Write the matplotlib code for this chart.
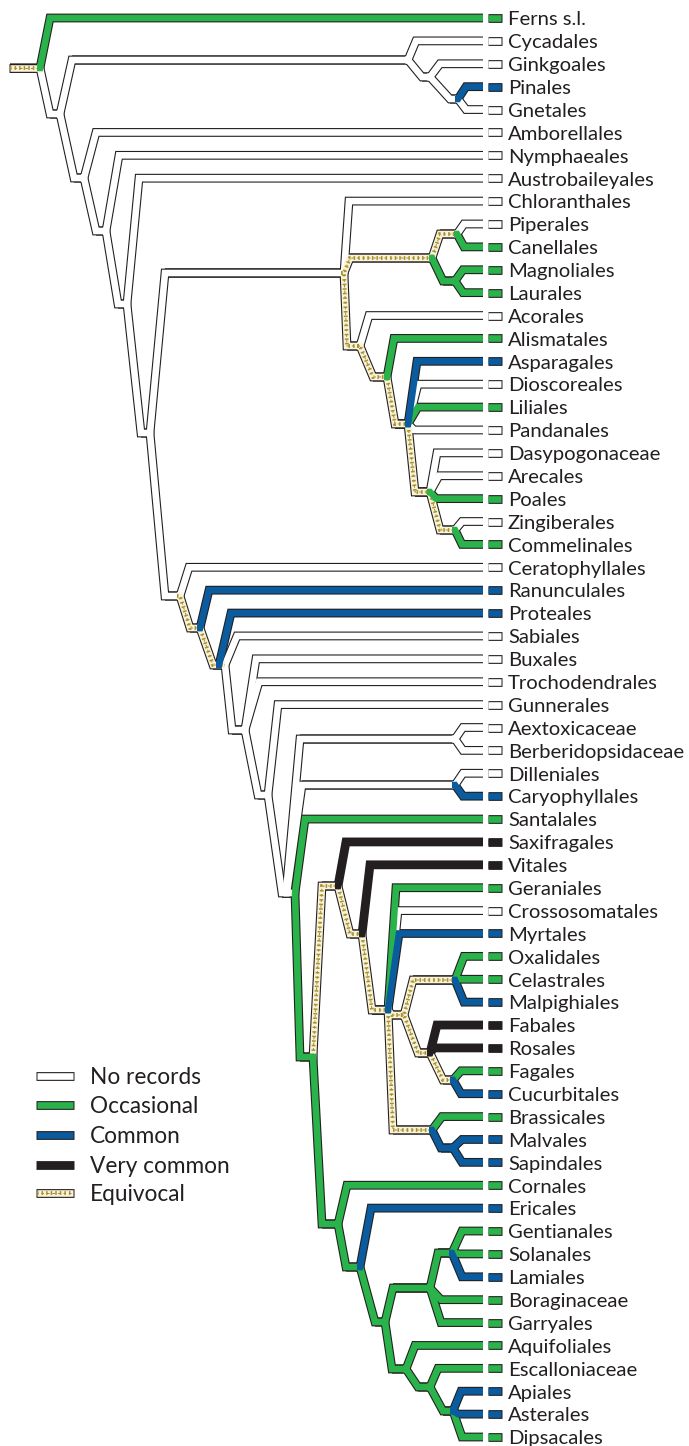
import matplotlib
matplotlib.use('Agg')
import matplotlib.pyplot as plt

# Tip taxa, top to bottom
taxa = ['Ferns s.l.', 'Cycadales', 'Ginkgoales', 'Pinales', 'Gnetales', 'Amborellales',
        'Nymphaeales', 'Austrobaileyales', 'Chloranthales', 'Piperales', 'Canellales',
        'Magnoliales', 'Laurales', 'Acorales', 'Alismatales', 'Asparagales', 'Dioscoreales',
        'Liliales', 'Pandanales', 'Dasypogonaceae', 'Arecales', 'Poales', 'Zingiberales',
        'Commelinales', 'Ceratophyllales', 'Ranunculales', 'Proteales', 'Sabiales', 'Buxales',
        'Trochodendrales', 'Gunnerales', 'Aextoxicaceae', 'Berberidopsidaceae', 'Dilleniales',
        'Caryophyllales', 'Santalales', 'Saxifragales', 'Vitales', 'Geraniales',
        'Crossosomatales', 'Myrtales', 'Oxalidales', 'Celastrales', 'Malpighiales', 'Fabales',
        'Rosales', 'Fagales', 'Cucurbitales', 'Brassicales', 'Malvales', 'Sapindales',
        'Cornales', 'Ericales', 'Gentianales', 'Solanales', 'Lamiales', 'Boraginaceae',
        'Garryales', 'Aquifoliales', 'Escalloniaceae', 'Apiales', 'Asterales', 'Dipsacales']

# Branches (parent, child, reconstructed state)
branches = [
    ('R', 'Ferns s.l.', 'occ'), ('R', 'S1', 'none'),
    ('S1', 'G', 'none'), ('G', 'Cycadales', 'none'), ('G', 'G2', 'none'),
    ('G2', 'Ginkgoales', 'none'), ('G2', 'G3', 'none'),
    ('G3', 'Pinales', 'common'), ('G3', 'Gnetales', 'none'),
    ('S1', 'A1', 'none'), ('A1', 'Amborellales', 'none'), ('A1', 'A2', 'none'),
    ('A2', 'Nymphaeales', 'none'), ('A2', 'A3', 'none'),
    ('A3', 'Austrobaileyales', 'none'), ('A3', 'A4', 'none'),
    ('A4', 'M', 'none'), ('M', 'Chloranthales', 'none'),
    ('M', 'Mg', 'equiv'), ('Mg', 'PC', 'equiv'),
    ('PC', 'Piperales', 'none'), ('PC', 'Canellales', 'occ'),
    ('Mg', 'ML', 'occ'), ('ML', 'Magnoliales', 'occ'), ('ML', 'Laurales', 'occ'),
    ('M', 'MO1', 'equiv'), ('MO1', 'Acorales', 'none'), ('MO1', 'MO2', 'equiv'),
    ('MO2', 'Alismatales', 'occ'), ('MO2', 'MO3', 'equiv'),
    ('MO3', 'Pandanales', 'none'), ('MO3', 'Dioscoreales', 'none'),
    ('MO3', 'Liliales', 'occ'), ('MO3', 'Asparagales', 'common'),
    ('MO3', 'MO4', 'equiv'),
    ('MO4', 'Dasypogonaceae', 'none'), ('MO4', 'Arecales', 'none'),
    ('MO4', 'Poales', 'occ'), ('MO4', 'MO5', 'equiv'),
    ('MO5', 'Zingiberales', 'none'), ('MO5', 'Commelinales', 'occ'),
    ('A4', 'E1', 'none'), ('E1', 'Ceratophyllales', 'none'), ('E1', 'E2', 'equiv'),
    ('E2', 'Ranunculales', 'common'), ('E2', 'E3', 'equiv'),
    ('E3', 'Proteales', 'common'), ('E3', 'Sabiales', 'none'), ('E3', 'E4', 'none'),
    ('E4', 'Buxales', 'none'), ('E4', 'Trochodendrales', 'none'), ('E4', 'E5', 'none'),
    ('E5', 'Gunnerales', 'none'), ('E5', 'E6', 'none'),
    ('E6', 'BB', 'none'), ('BB', 'Aextoxicaceae', 'none'), ('BB', 'Berberidopsidaceae', 'none'),
    ('E6', 'DC', 'none'), ('DC', 'Dilleniales', 'none'), ('DC', 'Caryophyllales', 'common'),
    ('E6', 'Santalales', 'occ'), ('E6', 'E7', 'occ'),
    ('E7', 'SR', 'equiv'), ('SR', 'Saxifragales', 'very'), ('SR', 'R2', 'equiv'),
    ('R2', 'Vitales', 'very'), ('R2', 'R3', 'equiv'),
    ('R3', 'Geraniales', 'occ'), ('R3', 'Crossosomatales', 'none'),
    ('R3', 'Myrtales', 'common'), ('R3', 'N', 'equiv'),
    ('N', 'COM', 'equiv'), ('COM', 'Oxalidales', 'occ'), ('COM', 'Celastrales', 'occ'),
    ('COM', 'Malpighiales', 'common'),
    ('N', 'FAB', 'equiv'), ('FAB', 'Fabales', 'very'), ('FAB', 'Rosales', 'very'),
    ('FAB', 'FC', 'equiv'), ('FC', 'Fagales', 'occ'), ('FC', 'Cucurbitales', 'common'),
    ('R3', 'MV', 'equiv'), ('MV', 'Brassicales', 'occ'), ('MV', 'MS', 'common'),
    ('MS', 'Malvales', 'common'), ('MS', 'Sapindales', 'common'),
    ('E7', 'AS1', 'occ'), ('AS1', 'Cornales', 'occ'), ('AS1', 'AS2', 'occ'),
    ('AS2', 'Ericales', 'common'), ('AS2', 'AS3', 'occ'),
    ('AS3', 'L1', 'occ'), ('L1', 'L2', 'occ'),
    ('L2', 'Gentianales', 'occ'), ('L2', 'Solanales', 'occ'), ('L2', 'Lamiales', 'common'),
    ('L1', 'Boraginaceae', 'occ'), ('L1', 'Garryales', 'occ'),
    ('AS3', 'C1', 'occ'), ('C1', 'Aquifoliales', 'occ'), ('C1', 'C2', 'occ'),
    ('C2', 'Escalloniaceae', 'occ'), ('C2', 'C3', 'occ'),
    ('C3', 'Apiales', 'common'), ('C3', 'Asterales', 'common'), ('C3', 'Dipsacales', 'occ'),
]
root_state = 'equiv'

legend_labels = ['No records', 'Occasional', 'Common', 'Very common', 'Equivocal']
legend_states = ['none', 'occ', 'common', 'very', 'equiv']

fill_colors = {'none': 'white', 'occ': '#2bb34b', 'common': '#0a5c9e',
               'very': '#231f20', 'equiv': '#f8f3da'}
outline = '#231f20'
speck = '#a8912a'

# ---- layout (pixels) ----
W, H = 689, 1446
tip_y = {t: 18 + i * (1437 - 18) / 62 for i, t in enumerate(taxa)}

# internal nodes: x where incoming slant ends, node x, y
nodes = {
    'R': (10, 40, 68), 'S1': (50, 60, 114),
    'G': (72, 408, 60), 'G2': (422, 430, 77), 'G3': (450, 458, 99),
    'A1': (74, 84, 178), 'A2': (96, 106, 231), 'A3': (118, 127, 304), 'A4': (141, 150, 433),
    'M': (165, 344, 273), 'Mg': (350, 432, 258), 'PC': (440, 457, 234), 'ML': (443, 455, 281),
    'MO1': (347, 360, 346), 'MO2': (373, 387, 377), 'MO3': (395, 408, 424),
    'MO4': (415, 430, 492), 'MO5': (440, 455, 530),
    'E1': (165, 180, 596), 'E2': (190, 200, 628), 'E3': (213, 225, 665),
    'E4': (232, 245, 730), 'E5': (258, 268, 795), 'E6': (282, 295, 893),
    'BB': (300, 455, 739), 'DC': (302, 455, 785),
    'E7': (300, 313, 1057), 'SR': (322, 338, 886), 'R2': (350, 362, 934),
    'R3': (372, 388, 1010), 'N': (392, 404, 1015), 'COM': (413, 455, 980),
    'FAB': (418, 430, 1053), 'FC': (443, 453, 1080), 'MV': (393, 432, 1130),
    'MS': (441, 453, 1148),
    'AS1': (322, 338, 1224), 'AS2': (346, 360, 1267), 'AS3': (375, 385, 1322),
    'L1': (393, 430, 1288), 'L2': (438, 452, 1253),
    'C1': (392, 406, 1369), 'C2': (418, 430, 1387), 'C3': (443, 453, 1411),
}

tip_corner = {
    'Ferns s.l.': 50, 'Cycadales': 416, 'Ginkgoales': 440, 'Pinales': 466, 'Gnetales': 466,
    'Amborellales': 96, 'Nymphaeales': 119, 'Austrobaileyales': 139, 'Chloranthales': 349,
    'Piperales': 464, 'Canellales': 464, 'Magnoliales': 463, 'Laurales': 463,
    'Acorales': 369, 'Alismatales': 394, 'Asparagales': 417, 'Dioscoreales': 418,
    'Liliales': 418, 'Pandanales': 414, 'Dasypogonaceae': 437, 'Arecales': 439,
    'Poales': 436, 'Zingiberales': 462, 'Commelinales': 462, 'Ceratophyllales': 189,
    'Ranunculales': 209, 'Proteales': 231, 'Sabiales': 237, 'Buxales': 256,
    'Trochodendrales': 259, 'Gunnerales': 278, 'Aextoxicaceae': 463,
    'Berberidopsidaceae': 463, 'Dilleniales': 463, 'Caryophyllales': 463,
    'Santalales': 305, 'Saxifragales': 346, 'Vitales': 370, 'Geraniales': 396,
    'Crossosomatales': 398, 'Myrtales': 399, 'Oxalidales': 464, 'Celastrales': 460,
    'Malpighiales': 464, 'Fabales': 437, 'Rosales': 434, 'Fagales': 461,
    'Cucurbitales': 461, 'Brassicales': 442, 'Malvales': 462, 'Sapindales': 462,
    'Cornales': 347, 'Ericales': 371, 'Gentianales': 462, 'Solanales': 460,
    'Lamiales': 462, 'Boraginaceae': 441, 'Garryales': 441, 'Aquifoliales': 415,
    'Escalloniaceae': 438, 'Apiales': 461, 'Asterales': 458, 'Dipsacales': 462,
}
# some branches leave the node stub early so they sit side by side
start_x = {'BB': 286, 'DC': 287, 'Proteales': 219}

PX = 0.72            # points per pixel at dpi 100
W_OUT, W_IN = 8.8 * PX, 6.6 * PX
LEAD = 3.0           # fill lead-in along the parent stub, keeps the miter clean
GAP = (483, 487.5)
TIP_END = 501
LINE_END = 484


def dedup(pts):
    out = [pts[0]]
    for p in pts[1:]:
        if abs(p[0] - out[-1][0]) > 1e-6 or abs(p[1] - out[-1][1]) > 1e-6:
            out.append(p)
    return out


def branch_points(p, c):
    xaP, xbP, yP = nodes[p]
    xs = start_x.get(c, xbP)
    if c in nodes:
        xaC, xbC, yC = nodes[c]
        pts = [(xs, yP), (xaC, yC), (xbC, yC)]
    else:
        yC = tip_y[c]
        pts = [(xs, yP), (tip_corner[c], yC), (LINE_END, yC)]
    lead = max(xaP, xs - LEAD)
    return dedup([(xaP, yP)] + pts), dedup([(lead, yP)] + pts)


fig = plt.figure(figsize=(W / 100, H / 100), dpi=100)
ax = fig.add_axes([0, 0, 1, 1])
ax.set_xlim(0, W)
ax.set_ylim(H, 0)
ax.axis('off')


def draw_fill(pts, state, z):
    xs, ys = zip(*pts)
    ax.plot(xs, ys, color=fill_colors[state], lw=W_IN, solid_joinstyle='miter',
            solid_capstyle='butt', zorder=z)
    if state == 'equiv':
        ax.plot(xs, ys, color=speck, lw=3.8 * PX, linestyle=(0, (0.4, 0.8)),
                dash_joinstyle='miter', dash_capstyle='butt', zorder=z + 0.1)
        ax.plot(xs, ys, color=speck, lw=1.0 * PX, linestyle=(1.5, (2.5, 3)),
                dash_capstyle='butt', zorder=z + 0.1)


# root stub
ax.plot([9, 40], [68, 68], color=outline, lw=W_OUT, solid_capstyle='butt', zorder=1)
draw_fill([(10, 68), (40, 68)], root_state, 2)

order = {'none': 0, 'equiv': 1, 'occ': 2, 'common': 3, 'very': 4}
zlev = {'none': 2, 'equiv': 2.3, 'occ': 2.6, 'common': 2.7, 'very': 2.8}
for p, c, s in branches:
    blk, _ = branch_points(p, c)
    xs, ys = zip(*blk)
    ax.plot(xs, ys, color=outline, lw=W_OUT, solid_joinstyle='miter',
            solid_capstyle='butt', zorder=1)
for p, c, s in sorted(branches, key=lambda b: order[b[2]]):
    _, pts = branch_points(p, c)
    draw_fill(pts, s, zlev[s])

# white gap before the tip boxes
ax.axvspan(GAP[0], GAP[1], color='white', zorder=5, lw=0)

# tip boxes and labels
tip_state = {c: s for p, c, s in branches if c not in nodes}
for t in taxa:
    y = tip_y[t]
    ax.plot([GAP[1], TIP_END + 1.2], [y, y], color=outline, lw=W_OUT,
            solid_capstyle='butt', zorder=6)
    draw_fill([(GAP[1], y), (TIP_END, y)], tip_state[t], 7)

# legend swatches
leg_y = [1076, 1105, 1135, 1165, 1193]
for lab, st, y in zip(legend_labels, legend_states, leg_y):
    ax.plot([36, 74], [y, y], color=outline, lw=W_OUT, solid_capstyle='butt', zorder=6)
    draw_fill([(37, y), (73, y)], st, 7)

# text, sized to match the reference widths
renderer = fig.canvas.get_renderer()
FONT = ['Lato', 'DejaVu Sans']


def fit_size(text, width_px, base=14):
    t = ax.text(0, 0, text, fontsize=base, family=FONT)
    w = t.get_window_extent(renderer).width
    t.remove()
    return base * width_px / w


fs_tax = fit_size('Berberidopsidaceae', 177)
fs_leg = fit_size('Very common', 140)
for t in taxa:
    ax.text(508, tip_y[t] + 0.36 * fs_tax / PX, t, fontsize=fs_tax, family=FONT,
            va='baseline', ha='left', color='#231f20', zorder=8)
for lab, y in zip(legend_labels, leg_y):
    ax.text(90, y + 0.36 * fs_leg / PX, lab, fontsize=fs_leg, family=FONT,
            va='baseline', ha='left', color='#231f20', zorder=8)

fig.savefig('out.png', dpi=100)
